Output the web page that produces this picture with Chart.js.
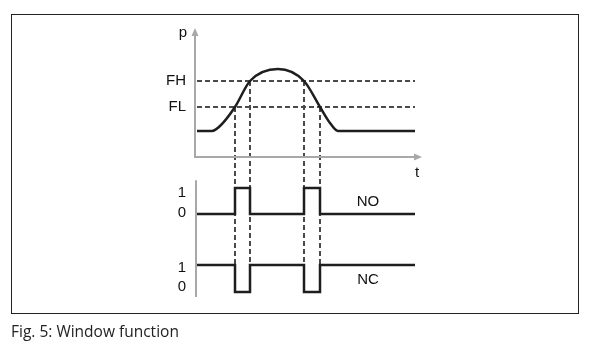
<!DOCTYPE html>
<html>
<head>
<meta charset="utf-8">
<script src="https://cdn.jsdelivr.net/npm/chart.js@4/dist/chart.umd.min.js"></script>
<style>
    html, body { margin: 0; padding: 0; background: #fff; }
    #wrap { position: relative; width: 602px; height: 344px; overflow: hidden; }
    #frame { position: absolute; left: 11px; top: 14px; width: 566px; height: 298px; border: 1.5px solid #222; }
    #caption { position: absolute; left: 11px; top: 320px; font: 15.5px "Open Sans", sans-serif; color: #222; white-space: nowrap; }
    canvas { position: absolute; left: 0; top: 0; }
</style>
</head>
<body>
<div id="wrap">
    <div id="frame"></div>
    <canvas id="grafico" width="602" height="344"></canvas>
    <div id="caption">Fig. 5: Window function</div>
</div>
<script>
// pressure curve p(t)
const curveT = [0.2, 1.7, 2.5, 4.0, 5.5, 8.3, 10.9, 12.5, 13.5, 14.3, 22.0];
const curveP = [2.6, 2.6, 3.1, 5.0, 7.6, 8.8, 7.6, 5.0, 3.4, 2.6, 2.6];

// switching thresholds
const levelNames = ["FH", "FL"];
const levelValues = [7.6, 5.0];

// switching instants and the threshold crossed at each
const switchTimes = [4.0, 5.5, 10.9, 12.5];
const switchLevels = [5.0, 7.6, 7.6, 5.0];

// outputs
const stateT = [0.2, 4.0, 5.5, 10.9, 12.5, 22.0];
const stateNO = [0, 1, 0, 1, 0, 0];
const stateNC = [1, 0, 1, 0, 1, 1];
const stateTicks = ["0", "1"];

const tStart = 0.2;
const tEnd = 22.0;

const ink = "#1e1e1e";
const dashInk = "#4a4a4a";
const axisInk = "#a8a8a8";
const labelFont = '15px "Liberation Sans", Arial, sans-serif';

const toPoints = (xs, ys) => xs.map((x, i) => ({ x: x, y: ys[i] }));

const datasets = [{
    data: toPoints(curveT, curveP),
    yAxisID: "yP",
    borderColor: ink,
    borderWidth: 2.5,
    cubicInterpolationMode: "monotone",
    pointRadius: 0
}];

levelValues.forEach(v => {
    datasets.push({
        data: [{ x: tStart, y: v }, { x: tEnd, y: v }],
        yAxisID: "yP",
        borderColor: dashInk,
        borderWidth: 2,
        borderDash: [5, 3],
        pointRadius: 0
    });
});

datasets.push({
    data: toPoints(stateT, stateNO),
    yAxisID: "yNO",
    borderColor: ink,
    borderWidth: 2.5,
    stepped: "before",
    pointRadius: 0
});
datasets.push({
    data: toPoints(stateT, stateNC),
    yAxisID: "yNC",
    borderColor: ink,
    borderWidth: 2.5,
    stepped: "before",
    pointRadius: 0
});

function arrow(ctx, x1, y1, x2, y2) {
    const a = Math.atan2(y2 - y1, x2 - x1);
    ctx.beginPath();
    ctx.moveTo(x1, y1);
    ctx.lineTo(x2 - 6 * Math.cos(a), y2 - 6 * Math.sin(a));
    ctx.stroke();
    ctx.beginPath();
    ctx.moveTo(x2, y2);
    ctx.lineTo(x2 - 8 * Math.cos(a) + 3.5 * Math.sin(a), y2 - 8 * Math.sin(a) - 3.5 * Math.cos(a));
    ctx.lineTo(x2 - 8 * Math.cos(a) - 3.5 * Math.sin(a), y2 - 8 * Math.sin(a) + 3.5 * Math.cos(a));
    ctx.closePath();
    ctx.fill();
}

const diagramPlugin = {
    id: "diagram",
    beforeDatasetsDraw(chart) {
        const ctx = chart.ctx;
        const x = chart.scales.x, yP = chart.scales.yP, yNO = chart.scales.yNO, yNC = chart.scales.yNC;
        ctx.save();
        // vertical guides from the threshold crossings down to the NC trace
        ctx.strokeStyle = dashInk;
        ctx.lineWidth = 2;
        ctx.setLineDash([5, 3]);
        switchTimes.forEach((t, i) => {
            const px = Math.round(x.getPixelForValue(t));
            ctx.beginPath();
            ctx.moveTo(px, yP.getPixelForValue(switchLevels[i]));
            ctx.lineTo(px, yNC.getPixelForValue(1));
            ctx.stroke();
        });
        ctx.setLineDash([]);

        // axes
        ctx.strokeStyle = axisInk;
        ctx.fillStyle = axisInk;
        ctx.lineWidth = 2;
        const x0 = x.getPixelForValue(0);
        const y0 = yP.getPixelForValue(0);
        arrow(ctx, x0, y0, x0, yP.getPixelForValue(yP.max));
        arrow(ctx, x0 - 1, y0, x.getPixelForValue(x.max), y0);
        ctx.beginPath();
        ctx.moveTo(x0 + 1, yNO.getPixelForValue(1.3));
        ctx.lineTo(x0 + 1, chart.chartArea.bottom);
        ctx.stroke();
        ctx.restore();
    },
    afterDraw(chart) {
        const ctx = chart.ctx;
        const x = chart.scales.x, yP = chart.scales.yP, yNO = chart.scales.yNO, yNC = chart.scales.yNC;
        const x0 = x.getPixelForValue(0);
        ctx.save();
        ctx.fillStyle = "#111";
        ctx.font = labelFont;
        ctx.textBaseline = "middle";

        ctx.textAlign = "right";
        ctx.fillText("p", x0 - 8, yP.getPixelForValue(yP.max) + 5);
        levelNames.forEach((name, i) => {
            ctx.fillText(name, x0 - 9, yP.getPixelForValue(levelValues[i]));
        });

        ctx.textAlign = "center";
        ctx.fillText("t", x.getPixelForValue(22.2), yP.getPixelForValue(0) + 16);

        ctx.fillText(stateTicks[1], x0 - 13, yNO.getPixelForValue(1) + 5);
        ctx.fillText(stateTicks[0], x0 - 13, yNO.getPixelForValue(0) - 1);
        ctx.fillText(stateTicks[1], x0 - 13, yNC.getPixelForValue(1) + 3);
        ctx.fillText(stateTicks[0], x0 - 13, yNC.getPixelForValue(0) - 5);

        ctx.fillText("NO", x.getPixelForValue(17.3), yNO.getPixelForValue(0.45));
        ctx.fillText("NC", x.getPixelForValue(17.3), yNC.getPixelForValue(0.45));
        ctx.restore();
    }
};

new Chart(document.getElementById("grafico").getContext("2d"), {
    type: "line",
    data: { datasets: datasets },
    options: {
        responsive: false,
        animation: false,
        events: [],
        layout: {
            padding: { left: 195, right: 180, top: 28, bottom: 47 }
        },
        scales: {
            x: { type: "linear", min: 0, max: 22.7, display: false },
            yP: { type: "linear", min: -14.0, max: 12.9, display: false },
            yNO: { type: "linear", min: -3.19, max: 7.15, display: false },
            yNC: { type: "linear", min: -0.185, max: 9.78, display: false }
        },
        plugins: {
            legend: { display: false },
            tooltip: { enabled: false }
        }
    },
    plugins: [diagramPlugin]
});
</script>
</body>
</html>
